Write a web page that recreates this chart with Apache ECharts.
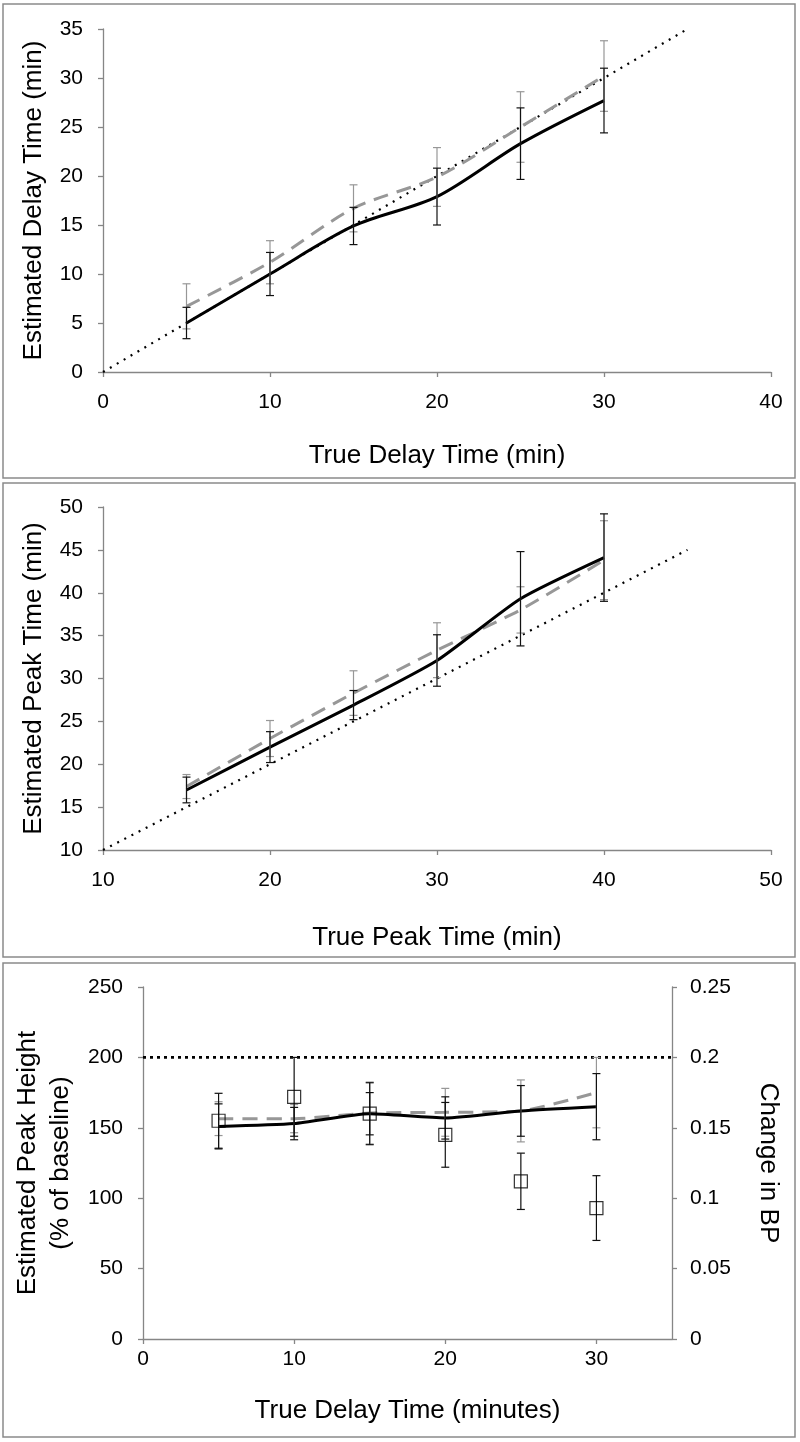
<!DOCTYPE html>
<html>
<head>
<meta charset="utf-8">
<script src="https://cdn.jsdelivr.net/npm/echarts@6/dist/echarts.min.js"></script>
<style>
html,body{margin:0;padding:0;background:#fff;}
#chart{width:800px;height:1442px;}
</style>
</head>
<body>
<div id="chart"></div>
<script>
// ---------- Panel 1: delay time ----------
const p1X = [5, 10, 15, 20, 25, 30];
const p1Est = [5.0, 10.0, 14.9, 17.9, 23.3, 27.7];
const p1EstErr = [1.6, 2.2, 1.9, 2.9, 3.65, 3.3];
const p1Alt = [6.7, 11.2, 16.7, 19.9, 25.0, 30.2];
const p1AltErr = [2.3, 2.2, 2.4, 3.0, 3.6, 3.6];
const p1RefX = [0, 35];
const p1RefY = [0, 35];

// ---------- Panel 2: peak time ----------
const p2X = [15, 20, 25, 30, 35, 40];
const p2Est = [17.0, 22.0, 26.9, 32.1, 39.3, 44.1];
const p2EstErr = [1.5, 1.8, 1.7, 3.0, 5.5, 5.1];
const p2Alt = [17.4, 23.0, 28.3, 33.3, 38.0, 43.8];
const p2AltErr = [1.4, 2.1, 2.6, 3.2, 2.7, 4.6];
const p2RefX = [10, 45];
const p2RefY = [10, 45];

// ---------- Panel 3: peak height / change in BP ----------
const p3X = [5, 10, 15, 20, 25, 30];
const p3Est = [151, 153, 160, 157, 162, 165];
const p3EstErr = [16, 11.5, 15, 15, 18, 23.5];
const p3Alt = [156.5, 156.5, 160.5, 161, 162, 175];
const p3AltErr = [12, 10, 22, 17, 22, 25];
const p3BP = [0.155, 0.172, 0.160, 0.145, 0.112, 0.093];
const p3BPErr = [0.0195, 0.028, 0.022, 0.023, 0.020, 0.023];
const p3RefX = [0, 35];
const p3RefY = [200, 200];

const FONT = 'Liberation Sans, Arial, sans-serif';
const AXC = '#868686';
const GRAY = '#979797';

function pairs(xs, ys) { return xs.map((x, i) => [x, ys[i]]); }
function triples(xs, ys, es) { return xs.map((x, i) => [x, ys[i], es[i]]); }

function errBar(color) {
  return function (params, api) {
    const x = api.value(0), y = api.value(1), e = api.value(2);
    const t = api.coord([x, y + e]);
    const b = api.coord([x, y - e]);
    const hw = 4;
    const st = { stroke: color, lineWidth: 1.2 };
    return {
      type: 'group',
      children: [
        { type: 'line', shape: { x1: t[0], y1: t[1], x2: b[0], y2: b[1] }, style: st },
        { type: 'line', shape: { x1: t[0] - hw, y1: t[1], x2: t[0] + hw, y2: t[1] }, style: st },
        { type: 'line', shape: { x1: b[0] - hw, y1: b[1], x2: b[0] + hw, y2: b[1] }, style: st }
      ]
    };
  };
}

function valAxis(o) {
  return Object.assign({
    type: 'value',
    axisLine: { show: true, lineStyle: { color: AXC, width: 1.3 } },
    axisTick: { show: true, length: 5, lineStyle: { color: AXC, width: 1.3 } },
    splitLine: { show: false },
    axisLabel: { color: '#000', fontSize: 21, fontFamily: FONT, margin: 20 },
    nameLocation: 'middle',
    nameTextStyle: { color: '#000', fontSize: 26, fontFamily: FONT }
  }, o);
}

const series = [];
function addPanel(gi, xs, est, estErr, alt, altErr, refX, refY, smoothVal, refStyle) {
  series.push({ type: 'line', xAxisIndex: gi, yAxisIndex: gi, data: pairs(refX, refY), symbol: 'none',
    lineStyle: refStyle, z: 1 });
  series.push({ type: 'line', xAxisIndex: gi, yAxisIndex: gi, data: pairs(xs, alt), symbol: 'none', smooth: smoothVal,
    lineStyle: { color: GRAY, width: 3, type: [15, 9] }, z: 2 });
  series.push({ type: 'line', xAxisIndex: gi, yAxisIndex: gi, data: pairs(xs, est), symbol: 'none', smooth: smoothVal,
    lineStyle: { color: '#000', width: 3 }, z: 3 });
  series.push({ type: 'custom', xAxisIndex: gi, yAxisIndex: gi, data: triples(xs, alt, altErr),
    renderItem: errBar(GRAY), z: 4 });
  series.push({ type: 'custom', xAxisIndex: gi, yAxisIndex: gi, data: triples(xs, est, estErr),
    renderItem: errBar('#111'), z: 5 });
}
const diagDots = { color: '#000', width: 2.2, type: [2, 6] };
addPanel(0, p1X, p1Est, p1EstErr, p1Alt, p1AltErr, p1RefX, p1RefY, 0.3, diagDots);
addPanel(1, p2X, p2Est, p2EstErr, p2Alt, p2AltErr, p2RefX, p2RefY, 0.2, diagDots);
addPanel(2, p3X, p3Est, p3EstErr, p3Alt, p3AltErr, p3RefX, p3RefY, 0.2, { color: '#000', width: 2.8, type: [3, 4] });
series.push({ type: 'custom', xAxisIndex: 2, yAxisIndex: 3, data: triples(p3X, p3BP, p3BPErr),
  renderItem: errBar('#111'), z: 6 });
series.push({ type: 'scatter', xAxisIndex: 2, yAxisIndex: 3, data: pairs(p3X, p3BP), symbol: 'rect', symbolSize: 13,
  itemStyle: { color: 'rgba(0,0,0,0)', borderColor: '#000', borderWidth: 1.2 }, z: 7 });

const option = {
  animation: false,
  backgroundColor: '#fff',
  grid: [
    { left: 103, top: 29, width: 668, height: 343 },
    { left: 103, top: 507, width: 668, height: 343 },
    { left: 143, top: 987, width: 529, height: 352 }
  ],
  xAxis: [
    valAxis({ gridIndex: 0, min: 0, max: 40, interval: 10, name: 'True Delay Time (min)', nameGap: 71 }),
    valAxis({ gridIndex: 1, min: 10, max: 50, interval: 10, name: 'True Peak Time (min)', nameGap: 75 }),
    valAxis({ gridIndex: 2, min: 0, max: 35, interval: 10, name: 'True Delay Time (minutes)', nameGap: 59,
      axisLabel: { color: '#000', fontSize: 21, fontFamily: FONT, margin: 10, showMaxLabel: false } })
  ],
  yAxis: [
    valAxis({ gridIndex: 0, min: 0, max: 35, interval: 5, name: 'Estimated Delay Time (min)', nameGap: 56 }),
    valAxis({ gridIndex: 1, min: 10, max: 50, interval: 5, name: 'Estimated Peak Time (min)', nameGap: 56 }),
    valAxis({ gridIndex: 2, min: 0, max: 250, interval: 50, name: 'Estimated Peak Height\n(% of baseline)', nameGap: 66,
      nameTextStyle: { color: '#000', fontSize: 26, fontFamily: FONT, lineHeight: 33 } }),
    valAxis({ gridIndex: 2, position: 'right', min: 0, max: 0.25, interval: 0.05, name: 'Change in BP', nameGap: 83,
      nameRotate: -90, axisLabel: { color: '#000', fontSize: 21, fontFamily: FONT, margin: 18 } })
  ],
  graphic: [
    { type: 'rect', shape: { x: 3, y: 4, width: 792, height: 474 }, style: { fill: 'none', stroke: '#8a8a8a', lineWidth: 1.5 }, z: -1 },
    { type: 'rect', shape: { x: 3, y: 483, width: 792, height: 474 }, style: { fill: 'none', stroke: '#8a8a8a', lineWidth: 1.5 }, z: -1 },
    { type: 'rect', shape: { x: 3, y: 963, width: 792, height: 474 }, style: { fill: 'none', stroke: '#8a8a8a', lineWidth: 1.5 }, z: -1 }
  ],
  series: series
};

const chart = echarts.init(document.getElementById('chart'), null, { renderer: 'canvas' });
chart.setOption(option);
</script>
</body>
</html>
